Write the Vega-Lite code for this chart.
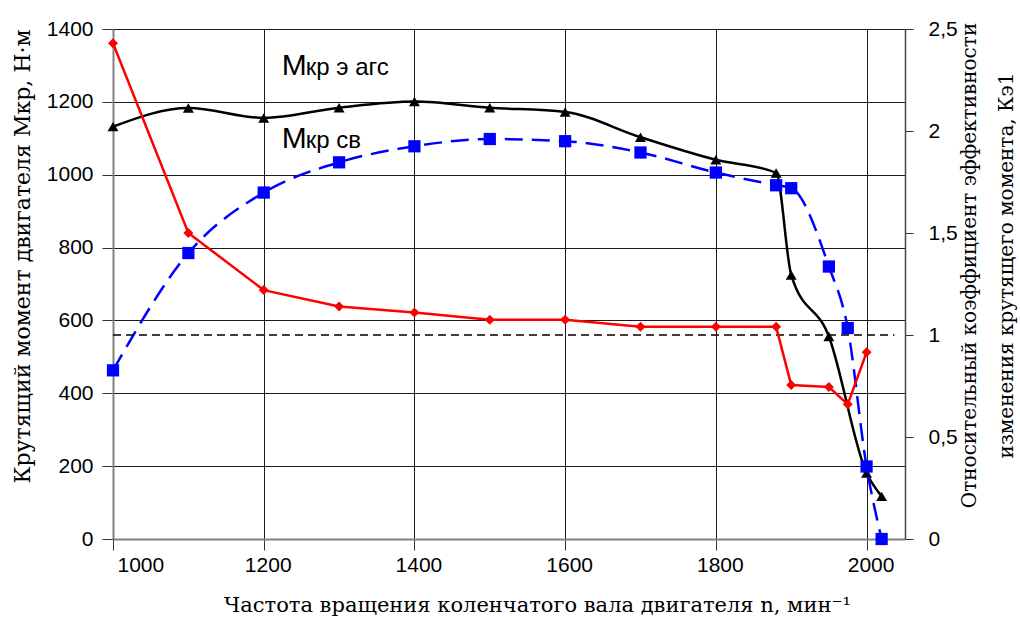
{
  "$schema": "https://vega.github.io/schema/vega-lite/v6.json",
  "width": 792,
  "height": 510,
  "autosize": {"type": "none"},
  "padding": {"left": 113, "top": 29, "right": 115, "bottom": 78},
  "background": "white",
  "config": {
    "view": {"stroke": null},
    "axis": {
      "labelFont": "Liberation Sans",
      "labelFontSize": 21,
      "labelColor": "#000",
      "titleFontWeight": "normal",
      "titleColor": "#000"
    }
  },
  "datasets": {
    "eags": [
      {"n": 1000, "M": 1132}, {"n": 1100, "M": 1183}, {"n": 1200, "M": 1156},
      {"n": 1300, "M": 1184}, {"n": 1400, "M": 1201}, {"n": 1500, "M": 1184},
      {"n": 1600, "M": 1172}, {"n": 1700, "M": 1103}, {"n": 1800, "M": 1041},
      {"n": 1880, "M": 1005}, {"n": 1900, "M": 725}, {"n": 1950, "M": 556},
      {"n": 2000, "M": 181}, {"n": 2020, "M": 117}
    ],
    "sv": [
      {"n": 1000, "M": 463}, {"n": 1100, "M": 785}, {"n": 1200, "M": 951},
      {"n": 1300, "M": 1034}, {"n": 1400, "M": 1078}, {"n": 1500, "M": 1098},
      {"n": 1600, "M": 1092}, {"n": 1700, "M": 1061}, {"n": 1800, "M": 1006},
      {"n": 1880, "M": 971}, {"n": 1900, "M": 963}, {"n": 1950, "M": 748},
      {"n": 1975, "M": 579}, {"n": 2000, "M": 199}, {"n": 2020, "M": 0}
    ],
    "k": [
      {"n": 1000, "K": 2.43}, {"n": 1100, "K": 1.5}, {"n": 1200, "K": 1.22},
      {"n": 1300, "K": 1.14}, {"n": 1400, "K": 1.11}, {"n": 1500, "K": 1.075},
      {"n": 1600, "K": 1.075}, {"n": 1700, "K": 1.04}, {"n": 1800, "K": 1.04},
      {"n": 1880, "K": 1.04}, {"n": 1900, "K": 0.755}, {"n": 1950, "K": 0.745},
      {"n": 1975, "K": 0.66}, {"n": 2000, "K": 0.915}
    ],
    "ref": [{"n": 1000, "K": 1}, {"n": 2037, "K": 1}],
    "labels": [
      {"n": 1224, "M": 1274, "big": "М", "rest": "кр э агс"},
      {"n": 1224, "M": 1074, "big": "М", "rest": "кр св"}
    ]
  },
  "layer": [
    {
      "encoding": {
        "x": {
          "field": "n", "type": "quantitative",
          "scale": {"domain": [1000, 2051], "nice": false, "zero": false},
          "axis": {
            "values": [1000, 1200, 1400, 1600, 1800, 2000],
            "format": "d",
            "grid": true, "gridColor": "#1a1a1a", "gridWidth": 1,
            "domainColor": "#808080", "domainWidth": 2,
            "tickSize": 11, "tickColor": "#333",
            "labelPadding": 4, "labelOffset": 4, "labelFont": "Liberation Sans", "labelFontSize": 21,
            "title": "Частота вращения коленчатого вала двигателя n, мин⁻¹",
            "titleFont": "DejaVu Serif", "titleFontSize": 21, "titleFontWeight": "normal",
            "titleX": 424, "titleY": 72, "titleAlign": "center", "titleBaseline": "alphabetic"
          }
        },
        "y": {
          "field": "M", "type": "quantitative",
          "scale": {"domain": [0, 1400], "nice": false},
          "axis": {
            "values": [0, 200, 400, 600, 800, 1000, 1200, 1400],
            "format": "d",
            "grid": true, "gridColor": "#1a1a1a", "gridWidth": 1,
            "domainColor": "#808080", "domainWidth": 2,
            "tickSize": 11, "tickColor": "#333",
            "labelPadding": 9, "labelFont": "Liberation Sans", "labelFontSize": 21,
            "title": "Крутящий момент  двигателя Мкр, Н·м",
            "titleFont": "DejaVu Serif", "titleFontSize": 22, "titleFontWeight": "normal",
            "titleAngle": 270, "titleX": -84, "titleY": 227,
            "titleAlign": "center", "titleBaseline": "alphabetic"
          }
        }
      },
      "layer": [
        {"data": {"name": "eags"}, "mark": {"type": "line", "color": "#000", "strokeWidth": 2.5, "interpolate": "monotone"}},
        {"data": {"name": "eags"}, "mark": {"type": "point", "shape": "triangle-up", "filled": true, "color": "#000", "size": 120, "opacity": 1}},
        {"data": {"name": "sv"}, "mark": {"type": "line", "color": "#0000ff", "strokeWidth": 2.5, "strokeDash": [18, 9], "interpolate": "monotone"}},
        {"data": {"name": "sv"}, "mark": {"type": "point", "shape": "square", "filled": true, "color": "#0000ff", "size": 150, "opacity": 1}},
        {"data": {"name": "labels"}, "mark": {"type": "text", "align": "left", "baseline": "alphabetic", "font": "Liberation Sans", "fontSize": 30, "color": "#000"}, "encoding": {"text": {"field": "big"}}},
        {"data": {"name": "labels"}, "mark": {"type": "text", "align": "left", "baseline": "alphabetic", "font": "Liberation Sans", "fontSize": 24, "dx": 24, "color": "#000"}, "encoding": {"text": {"field": "rest"}}}
      ]
    },
    {
      "encoding": {
        "x": {
          "field": "n", "type": "quantitative",
          "scale": {"domain": [1000, 2051], "nice": false, "zero": false}
        },
        "y": {
          "field": "K", "type": "quantitative",
          "scale": {"domain": [0, 2.5], "nice": false},
          "axis": {
            "orient": "right",
            "values": [0, 0.5, 1, 1.5, 2, 2.5],
            "grid": false,
            "domainColor": "#444", "domainWidth": 1.5,
            "tickSize": 8, "tickColor": "#333",
            "labelPadding": 15, "labelFont": "Liberation Sans", "labelFontSize": 21,
            "labelExpr": "replace(format(datum.value, '~g'), '.', ',')",
            "title": ["Относительный коэффициент эффективности", "изменения крутящего момента, Кэ1"],
            "titleFont": "DejaVu Serif", "titleFontSize": 20, "titleFontWeight": "normal",
            "titleAngle": 270, "titleX": 70, "titleY": 236,
            "titleAlign": "center", "titleBaseline": "alphabetic", "titleLineHeight": 37
          }
        }
      },
      "layer": [
        {"data": {"name": "ref"}, "mark": {"type": "line", "color": "#000", "strokeWidth": 1.5, "strokeDash": [8, 5]}},
        {"data": {"name": "k"}, "mark": {"type": "line", "color": "#ff0000", "strokeWidth": 2.5}},
        {"data": {"name": "k"}, "mark": {"type": "point", "shape": "diamond", "filled": true, "color": "#ff0000", "size": 100, "opacity": 1}}
      ]
    }
  ],
  "resolve": {"scale": {"y": "independent"}}
}
